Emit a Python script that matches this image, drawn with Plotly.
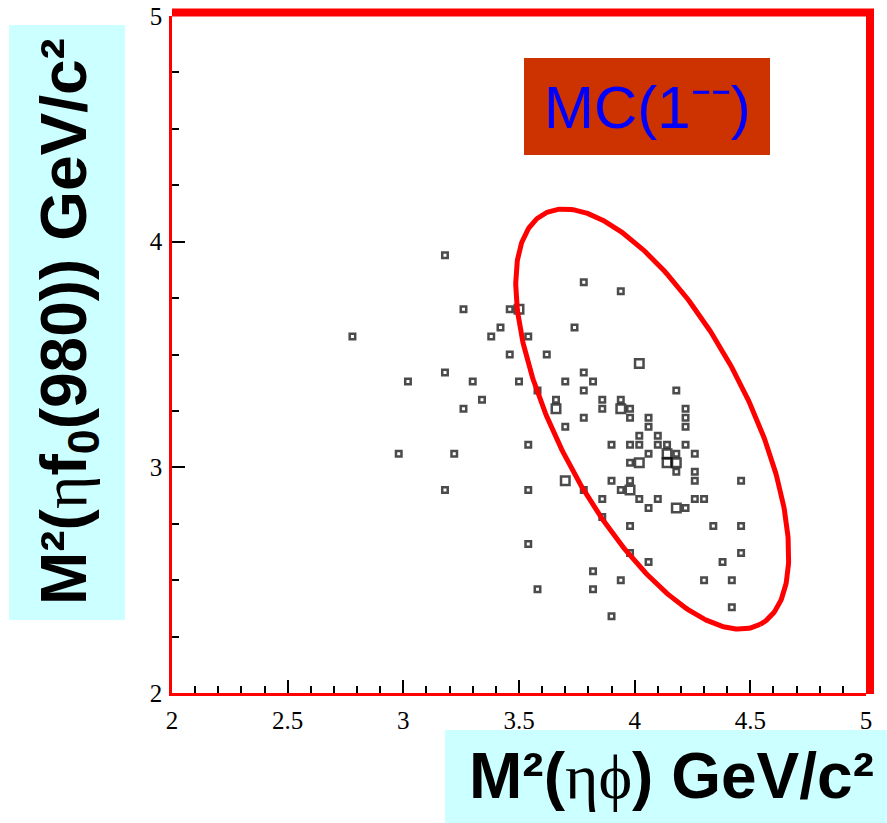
import numpy as np
import plotly.graph_objects as go

# ---------------- data (bin centres of the 2-D box histogram) ----------------
pt_x = [2.78, 3.18, 3.26, 3.46, 3.50, 3.42, 3.38, 3.54, 3.74, 3.46, 3.62, 3.18, 3.02,
        3.30, 3.50, 3.70, 3.58, 3.34, 3.66, 3.26, 3.66, 3.70, 3.78, 3.94, 4.02, 3.78,
        3.82, 3.78, 4.18, 3.86, 3.94, 3.86, 3.94, 3.98, 4.22, 3.78, 3.98, 4.06, 4.22,
        4.06, 4.22, 4.02, 4.10, 3.54, 3.90, 3.98, 4.02, 4.10, 4.14, 4.22, 2.98, 3.22,
        4.06, 4.14, 4.18, 4.26, 3.98, 4.02, 4.14, 4.18, 4.18, 4.26, 3.70, 3.90, 3.98,
        4.26, 4.46, 3.18, 3.54, 3.78, 3.94, 3.98, 3.86, 4.02, 4.10, 4.26, 4.30, 4.06,
        4.18, 4.22, 3.86, 3.98, 4.34, 4.46, 3.54, 3.98, 4.46, 4.06, 4.38, 3.82, 3.94,
        4.30, 4.42, 3.58, 3.82, 4.42, 3.90]
pt_y = [3.58, 3.94, 3.70, 3.70, 3.70, 3.62, 3.58, 3.58, 3.62, 3.50, 3.50, 3.42, 3.38,
        3.38, 3.38, 3.38, 3.34, 3.30, 3.30, 3.26, 3.26, 3.18, 3.82, 3.78, 3.46, 3.42,
        3.38, 3.34, 3.34, 3.30, 3.30, 3.26, 3.26, 3.26, 3.26, 3.22, 3.22, 3.22, 3.22,
        3.18, 3.18, 3.14, 3.14, 3.10, 3.10, 3.10, 3.10, 3.10, 3.10, 3.10, 3.06, 3.06,
        3.06, 3.06, 3.06, 3.06, 3.02, 3.02, 3.02, 3.02, 2.98, 2.98, 2.94, 2.94, 2.94,
        2.94, 2.94, 2.90, 2.90, 2.90, 2.90, 2.90, 2.86, 2.86, 2.86, 2.86, 2.86, 2.82,
        2.82, 2.82, 2.78, 2.74, 2.74, 2.74, 2.66, 2.62, 2.62, 2.58, 2.58, 2.54, 2.50,
        2.50, 2.50, 2.46, 2.46, 2.38, 2.34]
pt_count = [1, 1, 1, 1, 2, 1, 1, 1, 1, 1, 1, 1, 1,
            1, 1, 1, 1, 1, 1, 1, 2, 1, 1, 1, 2, 1,
            1, 1, 1, 1, 1, 1, 2, 1, 1, 1, 1, 1, 1,
            1, 1, 1, 1, 1, 1, 1, 1, 1, 1, 1, 1, 1,
            1, 2, 1, 1, 1, 2, 2, 2, 1, 1, 2, 1, 1,
            1, 1, 1, 1, 1, 1, 2, 1, 1, 1, 1, 1, 1,
            2, 1, 1, 1, 1, 1, 1, 1, 1, 1, 1, 1, 1,
            1, 1, 1, 1, 1, 1]

x_tickvals = [2, 2.5, 3, 3.5, 4, 4.5, 5]
x_ticktext = ["2", "2.5", "3", "3.5", "4", "4.5", "5"]
y_tickvals = [2, 3, 4, 5]
y_ticktext = ["2", "3", "4", "5"]

# ellipse (centre in data units, semi-axes in screen pixels, tilt in degrees)
ell_cx, ell_cy = 4.076, 3.214
ell_a_px, ell_b_px, ell_tilt = 232.0, 94.5, 62.3

# ---------------- layout geometry ----------------
W, H = 887, 823
ML, MR, MT, MB = 172, 21, 16, 130
PW, PH = W - ML - MR, H - MT - MB
XR, YR = [2, 5], [2, 5]


def px(X):
    return (X - ML) / PW


def py(Y):
    return (H - MB - Y) / PH


sx = PW / (XR[1] - XR[0])
sy = PH / (YR[1] - YR[0])
t = np.linspace(0, 2 * np.pi, 400)
th = np.deg2rad(ell_tilt)
dx_px = ell_a_px * np.cos(t) * np.cos(th) - ell_b_px * np.sin(t) * np.sin(th)
dy_px = ell_a_px * np.cos(t) * np.sin(th) + ell_b_px * np.sin(t) * np.cos(th)
ell_x = ell_cx + dx_px / sx
ell_y = ell_cy - dy_px / sy

sizes = [5.5 if c == 1 else 8.5 for c in pt_count]

fig = go.Figure()
fig.add_trace(go.Scatter(
    x=pt_x, y=pt_y, mode="markers",
    marker=dict(symbol="square", size=sizes, color="white",
                line=dict(color="black", width=2.5)),
    showlegend=False, hoverinfo="x+y"))
fig.add_trace(go.Scatter(
    x=ell_x, y=ell_y, mode="lines", line=dict(color="#ff0000", width=5),
    showlegend=False, hoverinfo="skip"))

axis_common = dict(showgrid=False, zeroline=False, showline=True, automargin=False,
                   linecolor="#ff0000", linewidth=2.5, mirror=False,
                   ticks="inside", ticklen=13, tickwidth=2, tickcolor="black",
                   tickfont=dict(family="Liberation Serif", size=25, color="black"))

fig.update_xaxes(range=XR, tickvals=x_tickvals, ticktext=x_ticktext,
                 minor=dict(ticks="inside", ticklen=7, tickwidth=2,
                            tickcolor="black", dtick=0.1, tick0=2),
                 ticklabelstandoff=3, **axis_common)
fig.update_yaxes(range=YR, tickvals=y_tickvals, ticktext=y_ticktext,
                 minor=dict(ticks="inside", ticklen=7, tickwidth=2,
                            tickcolor="black", dtick=0.25, tick0=2),
                 ticklabelstandoff=2, **axis_common)

shapes = [
    # thick red top & right frame
    dict(type="line", xref="paper", yref="paper", x0=px(172), x1=px(874),
         y0=py(12.5), y1=py(12.5), line=dict(color="#ff0000", width=8)),
    dict(type="line", xref="paper", yref="paper", x0=px(870), x1=px(870),
         y0=py(694), y1=py(9), line=dict(color="#ff0000", width=8)),
    # label boxes
    dict(type="rect", xref="paper", yref="paper", x0=px(9), x1=px(125),
         y0=py(620), y1=py(25), fillcolor="#ccffff", line=dict(width=0)),
    dict(type="rect", xref="paper", yref="paper", x0=px(445), x1=px(887),
         y0=py(823), y1=py(730), fillcolor="#ccffff", line=dict(width=0)),
    dict(type="rect", xref="paper", yref="paper", x0=px(524), x1=px(770),
         y0=py(155), y1=py(58), fillcolor="#cc3300", line=dict(width=0)),
]

serif = "<span style='font-family:Liberation Serif;font-weight:normal'>{}</span>"
annotations = [
    dict(xref="paper", yref="paper", x=px(68), y=py(322), textangle=-90,
         text="M²(" + serif.format("η") + "f<sub>0</sub>(980)) GeV/c²",
         showarrow=False, xanchor="center", yanchor="middle",
         font=dict(family="Liberation Sans", size=64, color="black", weight="bold")),
    dict(xref="paper", yref="paper", x=px(671), y=py(776),
         text="M²(" + serif.format("ηϕ") + ") GeV/c²",
         showarrow=False, xanchor="center", yanchor="middle",
         font=dict(family="Liberation Sans", size=64, color="black", weight="bold")),
    dict(xref="paper", yref="paper", x=px(647), y=py(108),
         text="MC(1⁻⁻)",
         showarrow=False, xanchor="center", yanchor="middle",
         font=dict(family="Liberation Sans", size=60, color="#0000ff")),
]

fig.update_layout(width=W, height=H, margin=dict(l=ML, r=MR, t=MT, b=MB, autoexpand=False),
                  paper_bgcolor="white", plot_bgcolor="white",
                  shapes=shapes, annotations=annotations, showlegend=False)

fig.write_html("out.html")
